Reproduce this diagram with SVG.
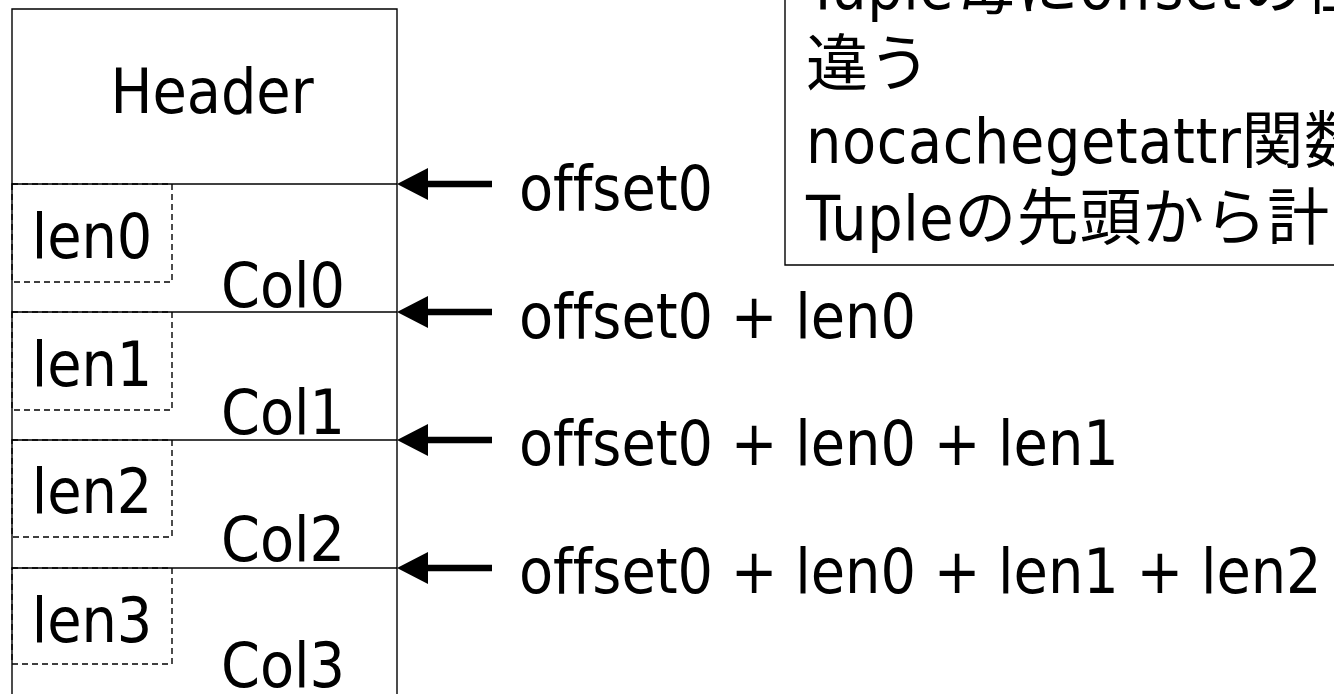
<svg xmlns="http://www.w3.org/2000/svg" width="1334" height="694" viewBox="0 0 1334 694">
  <style>
    .lbl { font-family: "DejaVu Sans Condensed", "DejaVu Sans", "Noto Sans CJK JP", sans-serif; font-size: 62px; fill: #000; font-variant-ligatures: none; }
    .mid { text-anchor: middle; }
    .wide { letter-spacing: 0.6px; }
    .frame { fill: none; stroke: #000; stroke-width: 1.4; }
    .sep { stroke: #000; stroke-width: 1.4; }
    .len { fill: none; stroke: #000; stroke-width: 1.4; stroke-dasharray: 6 4; }
    .ptr { stroke: #000; stroke-width: 6.5; }
  </style>
  <defs>
    <marker id="head" markerUnits="userSpaceOnUse" markerWidth="34" markerHeight="34" refX="8" refY="17" orient="auto">
      <path d="M0,1 L31,17 L0,33 Z" fill="#000"/>
    </marker>
  </defs>

  <rect width="1334" height="694" fill="#fff"/>

  <!-- tuple layout: header followed by four columns -->
  <g id="tuple">
    <path class="frame" d="M12,700 V9 H397 V700"/>
    <line class="sep" x1="12" y1="184" x2="397" y2="184"/>
    <line class="sep" x1="12" y1="312" x2="397" y2="312"/>
    <line class="sep" x1="12" y1="440" x2="397" y2="440"/>
    <line class="sep" x1="12" y1="568" x2="397" y2="568"/>
  </g>

  <g id="header">
    <text class="lbl mid" x="212" y="113">Header</text>
  </g>

  <g id="col0">
    <rect class="len" x="12" y="184" width="160" height="98"/>
    <text class="lbl mid" x="92" y="258">len0</text>
    <text class="lbl mid" x="283" y="307">Col0</text>
  </g>
  <g id="col1">
    <rect class="len" x="12" y="312" width="160" height="98"/>
    <text class="lbl mid" x="92" y="386">len1</text>
    <text class="lbl mid" x="283" y="434">Col1</text>
  </g>
  <g id="col2">
    <rect class="len" x="12" y="440" width="160" height="97"/>
    <text class="lbl mid" x="92" y="513">len2</text>
    <text class="lbl mid" x="283" y="561">Col2</text>
  </g>
  <g id="col3">
    <rect class="len" x="12" y="568" width="160" height="96"/>
    <text class="lbl mid" x="92" y="642">len3</text>
    <text class="lbl mid" x="283" y="687">Col3</text>
  </g>

  <!-- offset pointers, heads touching the right edge of the tuple -->
  <g id="connectors">
    <line class="ptr" x1="492" y1="184" x2="420" y2="184" marker-end="url(#head)"/>
    <line class="ptr" x1="492" y1="312" x2="420" y2="312" marker-end="url(#head)"/>
    <line class="ptr" x1="492" y1="440" x2="420" y2="440" marker-end="url(#head)"/>
    <line class="ptr" x1="492" y1="568" x2="420" y2="568" marker-end="url(#head)"/>
  </g>

  <g id="offsets">
    <text class="lbl" x="519" y="210">offset0</text>
    <text class="lbl" x="519" y="338">offset0 + len0</text>
    <text class="lbl" x="519" y="465">offset0 + len0 + len1</text>
    <text class="lbl" x="519" y="593">offset0 + len0 + len1 + len2</text>
  </g>

  <!-- note -->
  <g id="note">
    <path class="frame" d="M785,-10 V265 H1345" stroke-width="1.6"/>
    <text class="lbl wide" x="806" y="9">Tuple毎にoffsetの位</text>
    <text class="lbl wide" x="806" y="86">違う</text>
    <text class="lbl wide" x="806" y="163">nocachegetattr関数</text>
    <text class="lbl wide" x="806" y="240">Tupleの先頭から計</text>
  </g>
</svg>
